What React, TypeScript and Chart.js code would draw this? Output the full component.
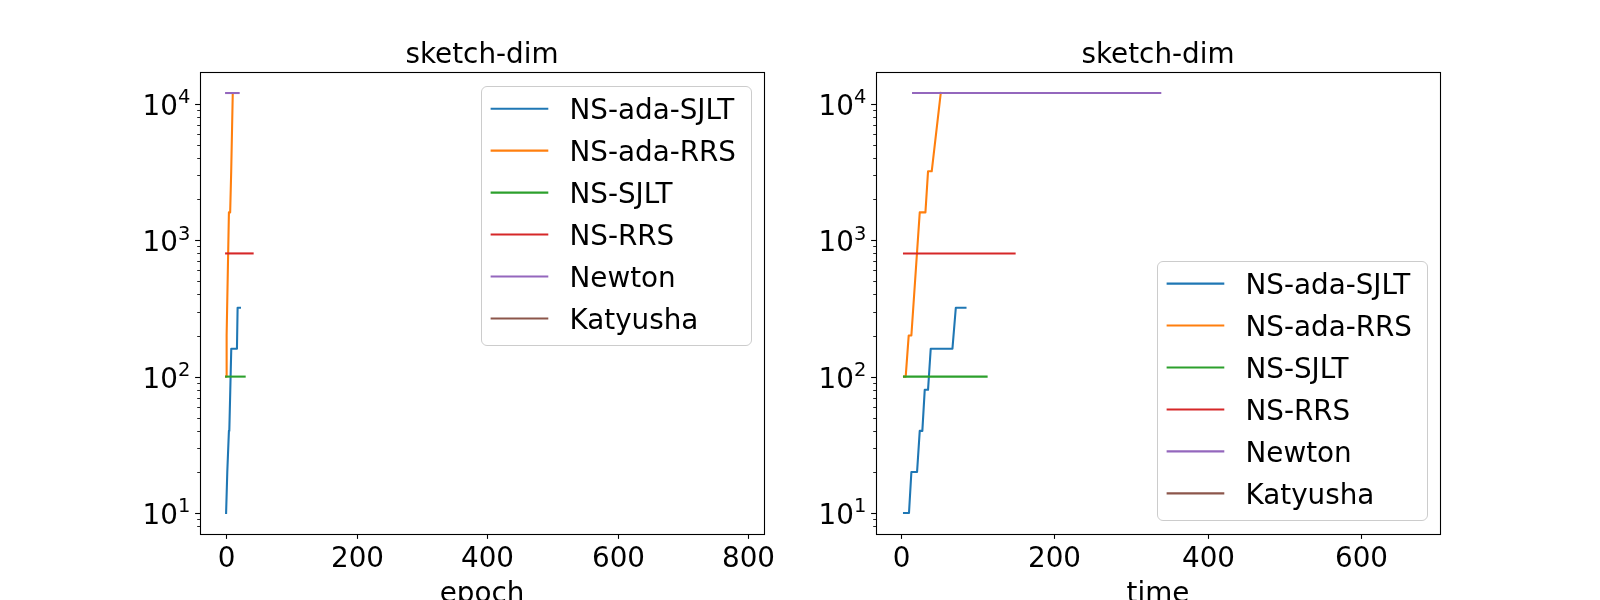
import { Chart, LineController, LineElement, PointElement, LinearScale, LogarithmicScale } from "chart.js"
import { useEffect, useRef } from "react"

Chart.register(LineController, LineElement, PointElement, LinearScale, LogarithmicScale)

const FONT = '"DejaVu Sans", "Liberation Sans", sans-serif'
const FS = 27.8

const SERIES_NAMES = ["NS-ada-SJLT", "NS-ada-RRS", "NS-SJLT", "NS-RRS", "Newton", "Katyusha"]
const SERIES_COLORS = ["#1f77b4", "#ff7f0e", "#2ca02c", "#d62728", "#9467bd", "#8c564b"]

// sketch dimension per recorded iteration
const ADA_SJLT_DIM = [10, 10, 20, 20, 40, 40, 80, 80, 160, 160, 320, 320]
const ADA_RRS_DIM = [100, 100, 200, 200, 1600, 1600, 3200, 3200, 12000]
const SJLT_DIM = [100, 100]
const RRS_DIM = [800, 800]
const NEWTON_DIM = [12000, 12000]
const KATYUSHA_DIM: number[] = []

// x positions, epoch
const ADA_SJLT_EPOCH = [0, 0.8, 1.8, 2.8, 4.3, 4.9, 6.4, 6.9, 7.9, 16.6, 17.6, 21.2]
const ADA_RRS_EPOCH = [0, 0.3, 0.8, 1.3, 4.3, 6.2, 7.8, 8.6, 10.2]
const SJLT_EPOCH = [0, 28.4]
const RRS_EPOCH = [0, 40.6]
const NEWTON_EPOCH = [0, 19.2]
const KATYUSHA_EPOCH: number[] = []

// x positions, time
const ADA_SJLT_TIME = [4.1, 10.6, 13.7, 21.1, 24.6, 28, 31.1, 35.4, 38.9, 67.2, 71.6, 84.2]
const ADA_RRS_TIME = [4.1, 6.3, 10.2, 13.7, 24.6, 32, 35.4, 40.2, 52]
const SJLT_TIME = [4.1, 111.7]
const RRS_TIME = [4.1, 148.2]
const NEWTON_TIME = [15.9, 338]
const KATYUSHA_TIME: number[] = []

const DIMS = [ADA_SJLT_DIM, ADA_RRS_DIM, SJLT_DIM, RRS_DIM, NEWTON_DIM, KATYUSHA_DIM]
const EPOCH_X = [ADA_SJLT_EPOCH, ADA_RRS_EPOCH, SJLT_EPOCH, RRS_EPOCH, NEWTON_EPOCH, KATYUSHA_EPOCH]
const TIME_X = [ADA_SJLT_TIME, ADA_RRS_TIME, SJLT_TIME, RRS_TIME, NEWTON_TIME, KATYUSHA_TIME]

const EPOCH_TICKS = [0, 200, 400, 600, 800]
const TIME_TICKS = [0, 200, 400, 600]
const Y_EXPONENTS = [1, 2, 3, 4]
const Y_MINOR = [8, 9, 20, 30, 40, 50, 60, 70, 80, 90, 200, 300, 400, 500, 600, 700, 800, 900, 2000, 3000, 4000, 5000, 6000, 7000, 8000, 9000]
const Y_MIN = 7.016
const Y_MAX = 17112

const crisp = (v: number) => Math.round(v) + 0.5

const mplAxes = {
	id: "mplAxes",
	afterDraw(chart: any, _args: any, opts: any) {
		const { ctx, chartArea: a, scales } = chart
		const xs = scales.x
		const ys = scales.y
		ctx.save()
		ctx.strokeStyle = "#000"
		ctx.fillStyle = "#000"

		const seg = (x1: number, y1: number, x2: number, y2: number) => {
			ctx.beginPath()
			ctx.moveTo(x1, y1)
			ctx.lineTo(x2, y2)
			ctx.stroke()
		}

		// x ticks
		ctx.lineWidth = 1.1
		ctx.font = `${FS}px ${FONT}`
		ctx.textAlign = "center"
		ctx.textBaseline = "alphabetic"
		for (const v of opts.xTicks) {
			const px = crisp(xs.getPixelForValue(v))
			seg(px, a.bottom, px, a.bottom + 4.9)
			ctx.fillText(String(v), px, a.bottom + 32.7)
		}

		// y ticks
		ctx.lineWidth = 0.85
		for (const v of Y_MINOR) {
			const py = crisp(ys.getPixelForValue(v))
			seg(a.left - 2.8, py, a.left, py)
		}
		ctx.lineWidth = 1.1
		const right = a.left - 9.7
		for (const e of Y_EXPONENTS) {
			const py = ys.getPixelForValue(Math.pow(10, e))
			seg(a.left - 4.9, crisp(py), a.left, crisp(py))
			ctx.textAlign = "left"
			ctx.font = `${FS * 0.7}px ${FONT}`
			const supW = ctx.measureText(String(e)).width
			ctx.font = `${FS}px ${FONT}`
			const mainW = ctx.measureText("10").width
			ctx.fillText("10", right - supW - mainW, py + 11)
			ctx.font = `${FS * 0.7}px ${FONT}`
			ctx.fillText(String(e), right - supW, py - 0.7)
		}

		// spines
		ctx.lineWidth = 1.1
		ctx.strokeRect(crisp(a.left), crisp(a.top), Math.round(a.right - a.left), Math.round(a.bottom - a.top))

		// title and axis label
		const cx = (a.left + a.right) / 2
		ctx.font = `${FS}px ${FONT}`
		ctx.textAlign = "center"
		ctx.fillText(opts.title, cx, a.top - 9.3)
		ctx.fillText(opts.xLabel, cx, a.bottom + 67.5)

		// legend
		const pad = 0.4 * FS
		const handle = 2 * FS
		const textPad = 0.8 * FS
		const rowH = 41.95
		const datasets = chart.data.datasets
		let maxW = 0
		for (const d of datasets) maxW = Math.max(maxW, ctx.measureText(d.label).width)
		const w = pad + handle + textPad + maxW + pad + 3
		const h = 259.3
		const inset = 0.5 * FS
		const bx = a.right - inset - w
		const by = opts.legendAt === "upper right" ? a.top + inset : a.bottom - inset - h
		ctx.beginPath()
		ctx.roundRect(crisp(bx), crisp(by), Math.round(w), Math.round(h), 5.5)
		ctx.fillStyle = "rgba(255,255,255,0.8)"
		ctx.fill()
		ctx.strokeStyle = "#cccccc"
		ctx.lineWidth = 1
		ctx.stroke()

		ctx.textAlign = "left"
		datasets.forEach((d: any, i: number) => {
			const ry = by + 22.8 + i * rowH
			ctx.strokeStyle = d.borderColor
			ctx.lineWidth = 2.08
			ctx.lineCap = "square"
			seg(bx + pad, ry, bx + pad + handle, ry)
			ctx.fillStyle = "#000"
			ctx.fillText(d.label, bx + pad + handle + textPad, ry + 10.2)
		})
		ctx.restore()
	},
}

interface PanelProps {
	xs: number[][]
	xMin: number
	xMax: number
	xTicks: number[]
	xLabel: string
	legendAt: string
	padding: { left: number; right: number; top: number; bottom: number }
}

function SketchPanel({ xs, xMin, xMax, xTicks, xLabel, legendAt, padding }: PanelProps) {
	const canvasRef = useRef<HTMLCanvasElement>(null)

	useEffect(() => {
		if (!canvasRef.current) return
		const chart = new Chart(canvasRef.current, {
			type: "line",
			data: {
				datasets: SERIES_NAMES.map((name, i) => ({
					label: name,
					data: xs[i].map((x, j) => ({ x, y: DIMS[i][j] })),
					borderColor: SERIES_COLORS[i],
					backgroundColor: SERIES_COLORS[i],
					borderWidth: 2.08,
					borderCapStyle: "square",
					borderJoinStyle: "round",
					pointRadius: 0,
					pointHoverRadius: 0,
					tension: 0,
					fill: false,
					order: SERIES_NAMES.length - i,
				})),
			},
			options: {
				animation: false,
				responsive: false,
				maintainAspectRatio: false,
				events: [],
				layout: { padding },
				scales: {
					x: { type: "linear", display: false, min: xMin, max: xMax },
					y: { type: "logarithmic", display: false, min: Y_MIN, max: Y_MAX },
				},
				plugins: {
					legend: { display: false },
					mplAxes: { xTicks, xLabel, title: "sketch-dim", legendAt },
				},
			} as any,
			plugins: [mplAxes],
		})
		return () => chart.destroy()
	}, [xs, xMin, xMax, xTicks, xLabel, legendAt, padding])

	return (
		<canvas
			ref={canvasRef}
			width={1600}
			height={600}
			style={{ position: "absolute", left: 0, top: 0, width: 1600, height: 600 }}
		/>
	)
}

const LEFT_PAD = { left: 200, right: 836, top: 72, bottom: 66 }
const RIGHT_PAD = { left: 876, right: 160, top: 72, bottom: 66 }

export default function App() {
	return (
		<div style={{ position: "absolute", left: 0, top: 0, width: 1600, height: 600, background: "#fff", overflow: "hidden" }}>
			<SketchPanel
				xs={EPOCH_X}
				xMin={-40}
				xMax={824}
				xTicks={EPOCH_TICKS}
				xLabel="epoch"
				legendAt="upper right"
				padding={LEFT_PAD}
			/>
			<SketchPanel
				xs={TIME_X}
				xMin={-32.4}
				xMax={702.5}
				xTicks={TIME_TICKS}
				xLabel="time"
				legendAt="lower right"
				padding={RIGHT_PAD}
			/>
		</div>
	)
}
